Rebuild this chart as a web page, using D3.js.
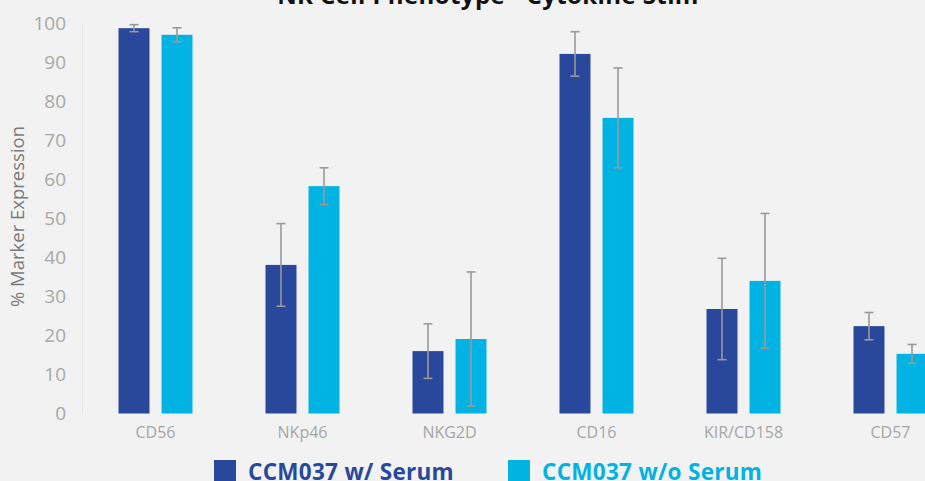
<!DOCTYPE html>
<html>
<head>
<meta charset="utf-8">
<script src="https://cdn.jsdelivr.net/npm/d3@7"></script>
<style>
  html, body { margin:0; padding:0; background:#f2f2f2; overflow:hidden; }
  #canvas { width:925px; height:481px; }
</style>
</head>
<body>
<div id="canvas" class="canvas"></div>
<script>
// values
var markers = ['CD56','NKp46','NKG2D','CD16','KIR/CD158','CD57'];
var seriesNames = ['CCM037 w/ Serum','CCM037 w/o Serum'];
var withSerum    = [98.8, 38.1, 16.0, 92.2, 26.8, 22.4];
var withSerumErr = [0.9, 10.6, 7.0, 5.7, 13.0, 3.5];
var noSerum      = [97.1, 58.3, 19.1, 75.8, 34.0, 15.3];
var noSerumErr   = [1.8, 4.7, 17.2, 12.8, 17.3, 2.4];
var yTicks = [0,10,20,30,40,50,60,70,80,90,100];
var colors = ['#29489c','#00b3e3'];

var outerWidth = 925, outerHeight = 481;
var m = {t:23.5, l:82, b:67.5};
var h = outerHeight - m.t - m.b;
var font = '"Open Sans", Lato, sans-serif';

var svg = d3.select('.canvas')
    .append('svg')
    .attr('width',outerWidth)
    .attr('height',outerHeight)
    .style('font-family',font);

// plot area runs past the right edge (chart is cropped)
var x = d3.scaleBand().domain(markers).range([m.l, 964]);
var x1 = d3.scaleBand().domain([0,1]).range([-37, 37]).paddingInner(0.28);
var y = d3.scaleLinear().domain([0,100]).range([m.t + h, m.t]);

var rows = markers.map(function(k,i){
    return {key:k, vals:[
        {s:0, v:withSerum[i], e:withSerumErr[i]},
        {s:1, v:noSerum[i], e:noSerumErr[i]}
    ]};
});

// title (cut off at the top in the reference)
svg.append('text')
    .attr('x', 488).attr('y', 4)
    .attr('text-anchor','middle')
    .style('font-size','24px').style('font-weight','bold').style('fill','#111')
    .style('letter-spacing','0.4px')
    .text('NK Cell Phenotype - Cytokine Stim');

// y axis
var yAxis = svg.append('g')
    .attr('transform','translate(' + m.l + ',0)')
    .call(d3.axisLeft(y).tickValues(yTicks).tickSize(0).tickPadding(16));
yAxis.select('.domain').attr('stroke','#e6e6e6');
yAxis.selectAll('text').style('font-size','19px').style('fill','#a8a8a8')
    .style('font-family',font);

svg.append('text')
    .attr('transform','translate(24,' + (m.t + h/2 - 2) + ') rotate(-90)')
    .attr('text-anchor','middle')
    .style('font-size','18.5px').style('fill','#7a7a7a')
    .text('% Marker Expression');

// bars
var groups = svg.selectAll('.grp')
    .data(rows)
  .enter().append('g')
    .attr('class','grp')
    .attr('transform', function(d){ return 'translate(' + (x(d.key) + x.bandwidth()/2) + ',0)'; });

groups.selectAll('rect')
    .data(function(d){ return d.vals; })
  .enter().append('rect')
    .attr('x', function(d){ return x1(d.s); })
    .attr('width', x1.bandwidth())
    .attr('y', function(d){ return y(d.v); })
    .attr('height', function(d){ return y(0) - y(d.v); })
    .attr('fill', function(d){ return colors[d.s]; });

// error bars
var err = groups.selectAll('.err')
    .data(function(d){ return d.vals; })
  .enter().append('g')
    .attr('class','err')
    .attr('stroke','#9a9a9a')
    .attr('stroke-width',1.6);
err.append('line')
    .attr('x1', function(d){ return x1(d.s) + x1.bandwidth()/2; })
    .attr('x2', function(d){ return x1(d.s) + x1.bandwidth()/2; })
    .attr('y1', function(d){ return y(d.v + d.e); })
    .attr('y2', function(d){ return y(d.v - d.e); });
err.selectAll('.cap')
    .data(function(d){ return [d.v + d.e, d.v - d.e].map(function(v){ return {s:d.s, v:v}; }); })
  .enter().append('line')
    .attr('x1', function(d){ return x1(d.s) + x1.bandwidth()/2 - 4.5; })
    .attr('x2', function(d){ return x1(d.s) + x1.bandwidth()/2 + 4.5; })
    .attr('y1', function(d){ return y(d.v); })
    .attr('y2', function(d){ return y(d.v); });

// category labels
var xAxis = svg.append('g')
    .attr('transform','translate(0,' + y(0) + ')')
    .call(d3.axisBottom(x).tickSize(0).tickPadding(13));
xAxis.select('.domain').remove();
xAxis.selectAll('text').style('font-size','16px').style('fill','#a6a6a6')
    .style('font-family',font);

// legend
var legendX = [214, 508];
var legend = svg.selectAll('.legend')
    .data(seriesNames)
  .enter().append('g')
    .attr('class','legend')
    .attr('transform', function(d,i){ return 'translate(' + legendX[i] + ',460)'; });
legend.append('rect')
    .attr('width',22).attr('height',22)
    .attr('fill', function(d,i){ return colors[i]; });
legend.append('text')
    .attr('x',34).attr('y',19.5)
    .style('font-size','22.5px').style('font-weight','bold')
    .style('letter-spacing','0.3px')
    .style('fill', function(d,i){ return colors[i]; })
    .text(function(d){ return d; });
</script>
</body>
</html>
